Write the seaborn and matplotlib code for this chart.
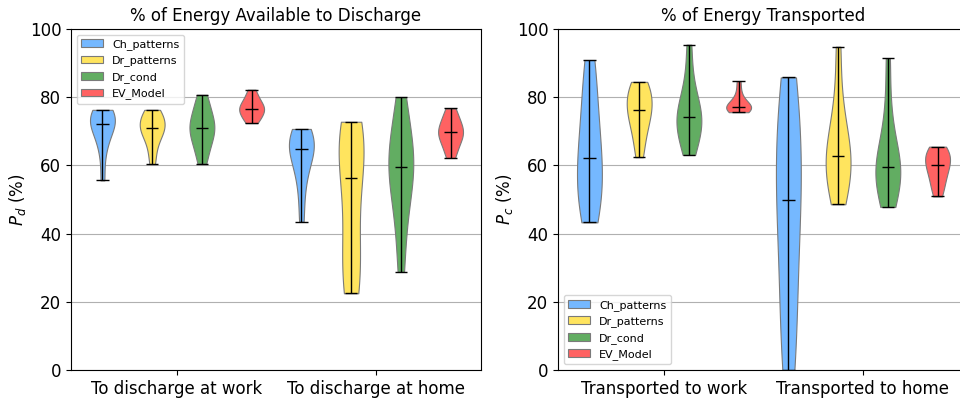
import matplotlib
matplotlib.use("Agg")
import matplotlib.pyplot as plt
import seaborn as sns
import pandas as pd
import numpy as np

# ---- data -----------------------------------------------------------------
models = ["Ch_patterns", "Dr_patterns", "Dr_cond", "EV_Model"]
colors = ["#75B8FF", "#FFE45E", "#62AD62", "#FF6262"]

discharge_groups = ["To discharge at work", "To discharge at home"]
transport_groups = ["Transported to work", "Transported to home"]

# % of energy available to discharge (P_d)
pd_work_ch = [55.6, 63.5, 67.5, 70.0, 71.5, 72.1, 73.2, 74.3, 75.2, 75.8, 76.3]
pd_work_dr = [60.4, 64.5, 67.5, 69.5, 70.5, 71.0, 71.8, 73.0, 74.3, 75.5, 76.3]
pd_work_cond = [60.5, 64.0, 66.5, 68.5, 70.0, 71.1, 72.0, 73.5, 75.5, 78.0, 80.7]
pd_work_ev = [72.4, 73.5, 74.5, 75.5, 76.2, 76.6, 77.2, 78.0, 79.0, 80.3, 82.2]
pd_home_ch = [43.5, 52.0, 57.5, 61.0, 63.0, 64.7, 66.0, 67.0, 68.3, 69.5, 70.7]
pd_home_dr = [22.5, 24.0, 28.5, 34.0, 40.0, 47.5, 56.2, 60.0, 63.5, 66.5,
              69.0, 71.0, 72.8]
pd_home_cond = [28.8, 40.0, 48.0, 53.0, 57.0, 59.6, 61.5, 64.0, 68.0, 73.0, 80.0]
pd_home_ev = [62.2, 64.5, 66.5, 68.0, 69.0, 69.7, 70.5, 71.5, 73.0, 74.8, 76.7]

# % of energy transported (P_c)
pc_work_ch = [43.3, 47.0, 51.0, 54.5, 58.0, 62.2, 66.0, 71.0, 77.0, 84.0, 90.9]
pc_work_dr = [62.4, 67.0, 70.5, 73.0, 75.0, 76.3, 78.0, 79.8, 81.5, 83.0, 84.5]
pc_work_cond = [63.1, 66.5, 69.0, 71.0, 72.8, 74.2, 75.5, 77.5, 80.5, 86.0, 95.4]
pc_work_ev = [75.6, 75.9, 76.3, 76.7, 77.0, 77.2, 77.7, 78.3, 79.3, 81.5, 84.7]
pc_home_ch = [0.0, 8.0, 20.0, 32.0, 42.0, 49.9, 56.0, 63.0, 70.0, 78.0, 85.8]
pc_home_dr = [48.6, 52.5, 55.5, 58.0, 60.5, 62.8, 65.0, 68.0, 72.0, 80.5, 94.8]
pc_home_cond = [47.8, 51.0, 54.0, 56.5, 58.2, 59.5, 61.0, 63.5, 68.0, 77.0, 91.4]
pc_home_ev = [50.9, 53.5, 55.5, 57.5, 59.0, 60.2, 61.3, 62.5, 63.5, 64.5, 65.5]


def to_frame(groups, series_by_group):
    rows = []
    for g, series in zip(groups, series_by_group):
        for m, vals in zip(models, series):
            rows += [(g, m, v) for v in vals]
    return pd.DataFrame(rows, columns=["group", "model", "value"])


df_d = to_frame(discharge_groups,
                [[pd_work_ch, pd_work_dr, pd_work_cond, pd_work_ev],
                 [pd_home_ch, pd_home_dr, pd_home_cond, pd_home_ev]])
df_c = to_frame(transport_groups,
                [[pc_work_ch, pc_work_dr, pc_work_cond, pc_work_ev],
                 [pc_home_ch, pc_home_dr, pc_home_cond, pc_home_ev]])

# ---- figure ---------------------------------------------------------------
W, H = 960, 399
fig = plt.figure(figsize=(W / 100, H / 100), dpi=100)
ax1 = fig.add_axes([71 / W, 29 / H, 410 / W, 341 / H])
ax2 = fig.add_axes([558 / W, 29 / H, 410 / W, 341 / H])

DODGE_WIDTH = 1.0
n_hue = len(models)
step = DODGE_WIDTH / n_hue
cap = step * 0.25 / 2


def draw(ax, df, groups, title, ylabel, legend_loc):
    ax.set_axisbelow(True)
    ax.yaxis.grid(True, color="#b0b0b0", linewidth=0.8)
    sns.violinplot(data=df, x="group", y="value", hue="model",
                   order=groups, hue_order=models, palette=colors,
                   saturation=1, cut=0, inner=None, density_norm="width",
                   width=DODGE_WIDTH, gap=0.5, linewidth=0.8,
                   linecolor="#7a7a7a", ax=ax)
    # extrema bars and median marks
    for i, g in enumerate(groups):
        for j, m in enumerate(models):
            v = df.loc[(df.group == g) & (df.model == m), "value"].to_numpy()
            x = i + (j - (n_hue - 1) / 2) * step
            lo, hi, med = v.min(), v.max(), np.median(v)
            ax.vlines(x, lo, hi, color="black", linewidth=1, zorder=4)
            ax.hlines([lo, hi, med], x - cap, x + cap, color="black",
                      linewidth=1, zorder=4)
    ax.set_xlim(-0.533, 1.528)
    ax.set_ylim(0, 100)
    ax.set_yticks([0, 20, 40, 60, 80, 100])
    ax.tick_params(labelsize=12)
    ax.set_xlabel("")
    ax.set_ylabel(ylabel, fontsize=12, labelpad=1)
    ax.set_title(title, fontsize=12)
    sns.move_legend(ax, legend_loc, title=None, fontsize=8, frameon=True)


draw(ax1, df_d, discharge_groups, "% of Energy Available to Discharge",
     "$P_d$ (%)", "upper left")
draw(ax2, df_c, transport_groups, "% of Energy Transported",
     "$P_c$ (%)", "lower left")

fig.savefig("out.png", dpi=100)
